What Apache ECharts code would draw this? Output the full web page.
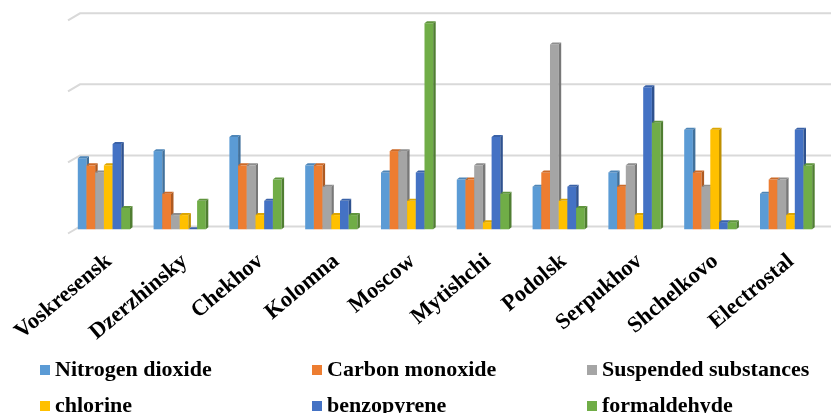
<!DOCTYPE html>
<html>
<head>
<meta charset="utf-8">
<script src="https://cdn.jsdelivr.net/npm/echarts@6/dist/echarts.min.js"></script>
<style>html,body{margin:0;padding:0;background:#fff}#c{width:831px;height:413px}</style>
</head>
<body>
<div id="c"></div>
<script>
const cities = ['Voskresensk','Dzerzhinsky','Chekhov','Kolomna','Moscow','Mytishchi','Podolsk','Serpukhov','Shchelkovo','Electrostal'];
const nitrogenDioxide = [10, 11, 13, 9, 8, 7, 6, 8, 14, 5];
const carbonMonoxide = [9, 5, 9, 9, 11, 7, 8, 6, 8, 7];
const suspendedSubstances = [8, 2, 9, 6, 11, 9, 26, 9, 6, 7];
const chlorine = [9, 2, 2, 2, 4, 1, 4, 2, 14, 2];
const benzopyrene = [12, 0, 4, 4, 8, 13, 6, 20, 1, 14];
const formaldehyde = [3, 4, 7, 2, 29, 5, 3, 15, 1, 9];
const gridTicks = [0, 10, 20, 30];

const seriesDefs = [
  {name: 'Nitrogen dioxide', data: nitrogenDioxide, color: '#5B9BD5', side: '#41719C', top: '#4E86B8'},
  {name: 'Carbon monoxide', data: carbonMonoxide, color: '#ED7D31', side: '#AE5A21', top: '#CC6A28'},
  {name: 'Suspended substances', data: suspendedSubstances, color: '#A5A5A5', side: '#787878', top: '#8E8E8E'},
  {name: 'chlorine', data: chlorine, color: '#FFC000', side: '#BF9000', top: '#DDA600'},
  {name: 'benzopyrene', data: benzopyrene, color: '#4472C4', side: '#2F528F', top: '#3A62A8'},
  {name: 'formaldehyde', data: formaldehyde, color: '#70AD47', side: '#507E32', top: '#5F953C'}
];

const chart = echarts.init(document.getElementById('c'), null, {renderer: 'canvas'});
const font = '"Liberation Serif", "Times New Roman", serif';

function makeBarSeries(def, s) {
  return {
    type: 'custom',
    name: def.name,
    itemStyle: {color: def.color},
    encode: {x: 0, y: 1},
    z: 5,
    data: def.data.map((v, i) => [i, v]),
    renderItem: function (params, api) {
      const cat = api.value(0), v = api.value(1);
      const top = api.coord([cat, v]);
      const base = api.coord([cat, 0]);
      const band = api.size([1, 0])[0];
      const w = band * 0.1148;
      const fx = top[0] - band * 0.066 - 3 * w + s * w;
      const dy = 2.8, dep = 2.5, dh = 2;
      const yt = top[1] + dy, yb = base[1] + dy;
      return {
        type: 'group',
        children: [
          {type: 'rect', shape: {x: fx, y: yt, width: w, height: yb - yt}, style: {fill: def.color}},
          {type: 'polygon', shape: {points: [[fx + w, yt], [fx + w + dep, yt - dh], [fx + w + dep, yb - dh], [fx + w, yb]]}, style: {fill: def.side}},
          {type: 'polygon', shape: {points: [[fx, yt], [fx + w, yt], [fx + w + dep, yt - dh], [fx + dep, yt - dh]]}, style: {fill: def.top}}
        ]
      };
    }
  };
}

const wallSeries = {
  type: 'custom',
  name: 'wall',
  silent: true,
  z: 1,
  encode: {x: 0, y: 1},
  data: gridTicks.map(v => [0, v]),
  renderItem: function (params, api) {
    const y = api.coord([0, api.value(1)])[1];
    const cs = params.coordSys;
    const wl = cs.x + 9;
    return {
      type: 'polyline',
      shape: {points: [[wl - 12, y + 7], [wl, y], [cs.x + cs.width + 4, y]]},
      style: {stroke: '#D9D9D9', lineWidth: 2, fill: null}
    };
  }
};

const legendLefts = [40, 312, 587];
const legendTops = [359, 395];
function legendItem(idx) {
  const col = idx % 3, row = Math.floor(idx / 3);
  return {
    orient: 'horizontal',
    left: legendLefts[col],
    top: legendTops[row],
    data: [seriesDefs[idx].name],
    icon: 'rect',
    itemWidth: 10,
    itemHeight: 10,
    padding: 0,
    textStyle: {fontFamily: font, fontWeight: 'bold', fontSize: 22, color: '#000', lineHeight: 22}
  };
}

chart.setOption({
  animation: false,
  backgroundColor: '#fff',
  grid: {left: 71, right: 2, top: 13.3, bottom: 186.5, containLabel: false},
  xAxis: {
    type: 'category',
    data: cities,
    axisLine: {show: false},
    axisTick: {show: false},
    splitLine: {show: false},
    axisLabel: {
      interval: 0,
      rotate: 40,
      margin: 32,
      fontFamily: font,
      fontWeight: 'bold',
      fontSize: 22.5,
      color: '#000'
    }
  },
  yAxis: {
    type: 'value',
    min: 0,
    max: 30,
    interval: 10,
    axisLabel: {show: false},
    axisLine: {show: false},
    axisTick: {show: false},
    splitLine: {show: false}
  },
  legend: seriesDefs.map((d, i) => legendItem(i)),
  series: [wallSeries].concat(seriesDefs.map(makeBarSeries))
});
</script>
</body>
</html>
